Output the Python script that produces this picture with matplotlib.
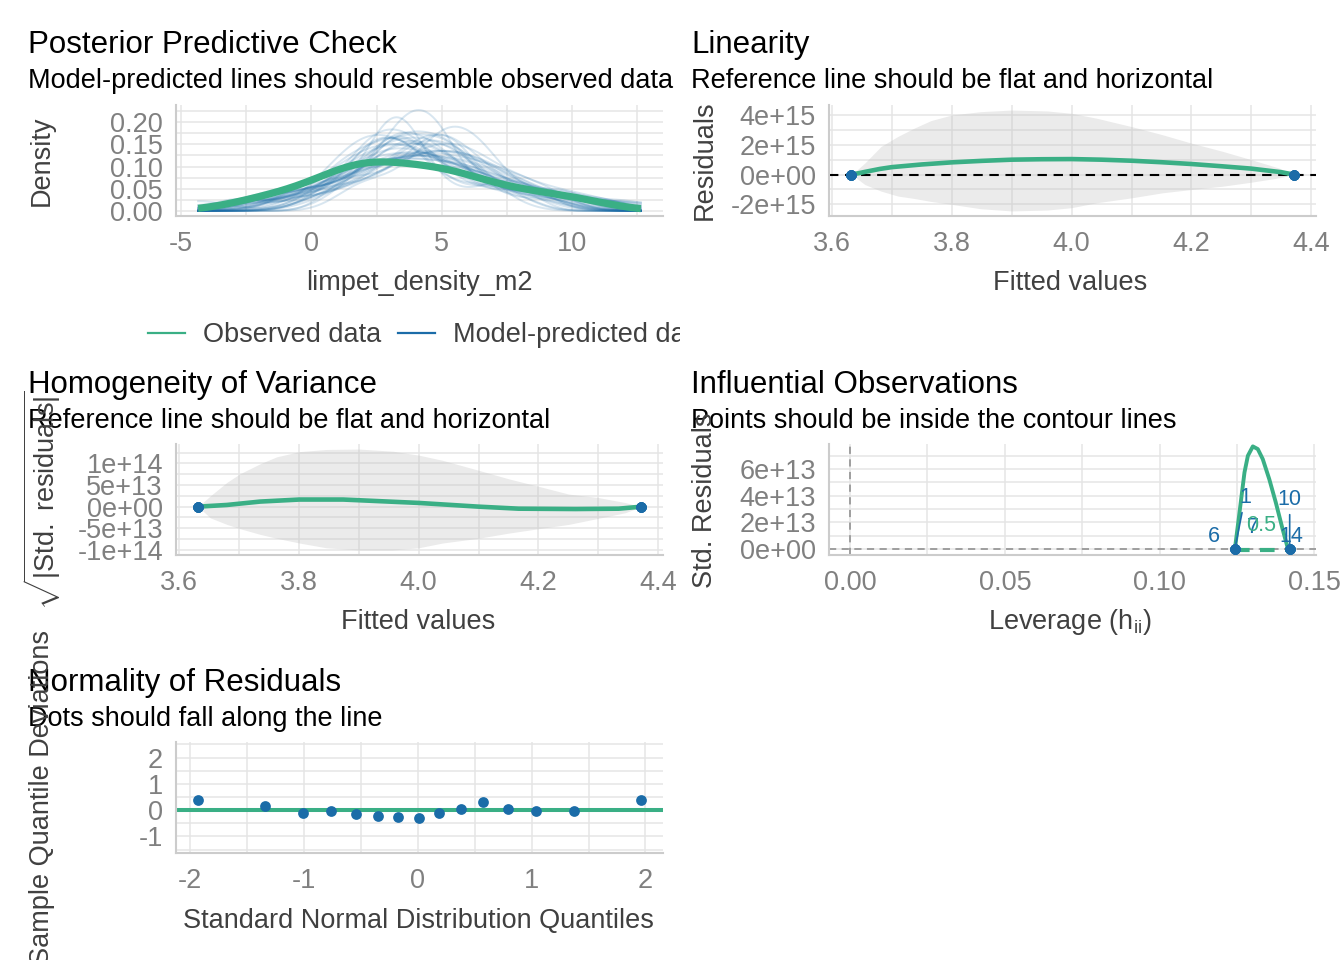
import numpy as np
import matplotlib
matplotlib.use("Agg")
import matplotlib.pyplot as plt
from matplotlib.ticker import FixedLocator, FixedFormatter

plt.rcParams['font.family'] = ['Liberation Sans', 'DejaVu Sans']
plt.rcParams['mathtext.fontset'] = 'custom'
plt.rcParams['mathtext.rm'] = 'Liberation Sans'
plt.rcParams['mathtext.it'] = 'Liberation Sans:italic'
plt.rcParams['mathtext.bf'] = 'Liberation Sans:bold'
plt.rcParams['axes.unicode_minus'] = False

W, H = 1344, 960
GREEN = '#3aaf85'
BLUE = '#1b6ca8'
GRID = '#e5e5e5'
AXLINE = '#cccccc'
TICK = '#808080'
LAB = '#404040'

# ---- posterior predictive check: observed sample and model replicates
observed = [-2.0, -0.3, 0.8, 1.5, 1.9, 2.3, 2.7, 3.4, 4.4, 4.9, 5.3, 5.9, 7.2, 8.5, 10.2]
replicates = [
    [3.1, 5.6, -0.8, 2.4, 7.9, 4.2, 1.3, 6.5, 3.8, 0.2, 9.1, 4.7, 2.9, 5.2, -2.1],
    [4.4, 2.2, 6.8, 1.7, 3.5, 8.3, 5.9, -1.4, 3.0, 4.9, 10.2, 2.6, 0.9, 6.1, 3.9],
    [-4.35, 1.2, 3.3, 4.1, 2.8, 5.4, 7.2, 0.5, 3.7, 6.6, 2.1, 4.8, 8.9, 1.9, 3.4],
    [5.1, 3.6, 0.9, 2.9, 4.0, 6.8, 5.7, 2.5, 4.6, 3.9, 8.2, 1.8, 4.4, 3.3, 5.0],
    [0.7, 6.9, 2.3, 9.6, 4.5, -1.9, 5.8, 3.1, 7.7, 1.4, 4.9, 12.65, 2.7, 6.3, 3.6],
    [2.6, 3.1, 1.2, 2.8, 4.5, 3.6, 0.7, 6.7, 7.4, 3.9, -0.8, 5.5, 2.9, 9.8, 5.0],
    [4.8, 5.3, 6.6, 4.0, 5.9, 1.0, 2.4, 6.2, 3.3, 7.3, 0.3, 5.1, 8.4, 3.8, 9.0],
    [-2.8, 0.9, 2.1, 3.6, 1.5, 4.4, 2.7, 0.2, 3.3, 5.2, 6.8, 1.8, 4.0, 7.5, 2.5],
    [3.9, 7.1, 5.5, 2.0, 9.3, 4.6, 6.4, 3.2, 8.0, 1.1, 5.0, 10.8, 4.2, 6.9, 2.8],
    [1.6, 2.3, 3.0, 2.7, 4.9, 5.3, 4.6, 2.0, 5.8, 3.4, 8.6, -0.5, 5.1, 2.9, 6.2],
    [4.0, -1.1, 6.3, 3.5, 0.6, 7.8, 2.9, 5.1, 11.2, 3.7, 1.8, 4.6, 8.7, 2.2, 5.6],
    [2.9, 3.3, 3.6, 2.5, -0.8, 4.2, 2.7, 3.9, 5.4, 1.6, 6.9, 0.4, 3.4, 7.6, 8.7],
    [5.7, 4.1, 6.6, 0.1, 2.8, 4.9, 9.9, 3.4, 7.0, -2.5, 5.2, 1.7, 6.1, 3.8, 8.2],
    [3.2, 1.0, 4.5, 6.0, 2.3, 3.8, 5.1, 0.0, 4.1, 7.2, 2.7, 5.6, -1.6, 3.5, 9.0],
    [4.7, 4.3, 5.0, 5.4, 0.6, 3.6, 6.2, 2.0, 4.9, 7.7, 1.3, 5.8, 3.2, 10.4, 8.9],
    [0.4, 2.5, 1.8, 3.9, -0.9, 6.1, 2.9, 4.6, 1.2, 7.4, 3.4, 5.0, 8.8, 2.1, 4.2],
    [6.4, 3.0, 7.9, 4.4, 5.3, 2.6, 11.5, 5.9, 1.5, 8.6, 4.0, 6.8, 0.8, 5.0, 3.7],
    [3.5, 2.8, 4.6, 3.1, 5.2, 9.0, 2.4, 4.3, 6.0, 3.3, 1.1, 4.9, 7.1, -0.3, 5.6],
    [2.0, 5.7, 3.4, 8.1, 1.4, 4.8, -3.2, 6.5, 3.0, 4.2, 9.7, 2.6, 5.3, 0.7, 6.9],
    [4.2, 4.8, 3.7, 5.5, 0.4, 6.3, 2.8, 5.0, 3.1, 6.9, 4.6, 1.9, 5.8, 8.0, 9.8],
    [1.1, 3.8, 2.4, 5.9, 0.3, 4.4, 2.9, 7.0, 3.3, -1.8, 5.1, 2.0, 8.4, 3.6, 6.2],
    [5.0, 2.7, 6.1, 3.9, 4.5, 9.2, 1.6, 5.6, 3.2, 7.3, 4.1, 0.5, 6.7, 4.8, 11.0],
    [2.2, 2.6, 3.0, 1.7, 3.5, 2.9, 4.1, 0.9, 5.3, -2.4, 6.4, 3.8, -0.7, 8.6, 7.5],
    [3.6, 5.2, 1.9, 6.8, 4.0, 2.5, 8.5, 4.7, 0.6, 5.9, 3.1, 7.4, -1.3, 4.3, 10.1],
    [4.9, 3.3, 5.8, 2.1, 4.4, 6.6, 3.7, 5.1, 1.2, 4.0, 7.9, 2.8, 5.5, 9.4, 3.0],
    [0.0, 1.9, 3.1, 2.5, 4.7, -1.5, 3.6, 5.4, 2.2, 6.3, 1.3, 4.1, 7.8, 2.9, 3.9],
    [5.4, 6.0, 4.6, 7.2, 3.9, 5.7, 2.3, 6.5, 4.9, 8.8, 1.6, 5.2, 3.4, 10.0, 6.8],
    [3.0, 4.5, 2.0, 5.3, 3.7, 1.4, 6.1, 4.0, 2.6, 7.0, 3.3, -2.2, 4.8, 0.8, 5.7],
    [2.7, 7.6, 4.3, 1.0, 5.9, 3.6, 9.0, 2.2, 6.4, -0.4, 4.9, 3.1, 11.8, 5.4, 1.7],
    [4.1, 3.4, 4.7, 2.9, 5.2, -1.0, 4.4, 6.6, 1.5, 5.7, 3.1, 8.2, 2.4, 9.6, 0.2],
    [1.8, 4.9, 3.2, -0.6, 6.7, 2.4, 5.5, 8.1, 3.9, 0.8, 4.4, 7.0, 2.9, 5.8, 10.6],
    [6.1, 2.9, 4.7, 3.4, 8.7, 0.2, 5.3, 2.0, 6.9, 4.1, -2.6, 3.6, 5.9, 1.3, 7.6],
    [3.3, 3.8, 2.6, 4.4, 1.1, 5.0, 3.0, 6.4, -0.9, 4.7, 2.2, 7.7, 3.5, 9.3, 5.6],
    [5.8, 4.2, 7.3, 2.7, 6.0, 3.5, 9.5, 4.8, 1.6, 6.6, 0.4, 5.2, 11.9, 3.9, 7.9],
    [2.4, 0.6, 3.7, 1.5, 4.3, -1.7, 2.9, 5.6, 3.2, 6.9, 1.0, 4.6, 8.3, 2.1, 3.9],
]

# ---- fitted values / residuals (two groups of observations)
fitted = [3.632, 3.632, 3.632, 3.632, 3.632, 3.632, 3.632, 3.632,
          4.371, 4.371, 4.371, 4.371, 4.371, 4.371, 4.371]
resid = [0.0] * 15
leverage = [0.1243, 0.1243, 0.1243, 0.1243, 0.1243, 0.1243, 0.1243, 0.1243,
            0.1420, 0.1420, 0.1420, 0.1420, 0.1420, 0.1420, 0.1420]

# linearity smoother and its band (x 1e15)
lin_band_x = [3.633, 3.655, 3.682, 3.710, 3.737, 3.765, 3.800, 3.848, 3.900, 3.959,
              4.000, 4.042, 4.100, 4.152, 4.200, 4.252, 4.300, 4.346, 4.371]
lin_hi = [0, 0.78, 1.89, 2.56, 3.11, 3.62, 4.0, 4.22, 4.33, 4.27,
          4.11, 3.78, 3.22, 2.67, 2.11, 1.56, 1.0, 0.44, 0]
lin_lo = [0, -0.67, -1.11, -1.44, -1.60, -1.80, -2.0, -2.29, -2.44, -2.38,
          -2.22, -1.89, -1.56, -1.22, -1.0, -0.78, -0.51, -0.22, 0]
lin_line_x = [3.633, 3.655, 3.68, 3.70, 3.75, 3.80, 3.85, 3.90, 3.95, 4.00, 4.05,
              4.10, 4.15, 4.20, 4.25, 4.30, 4.35, 4.371]
lin_line = [0, 0.18, 0.38, 0.50, 0.68, 0.82, 0.92, 1.0, 1.03, 1.04, 1.0,
            0.93, 0.83, 0.71, 0.56, 0.4, 0.16, 0]

# homogeneity smoother and band (x 1e13)
hom_band_x = [3.632, 3.6525, 3.680, 3.702, 3.7355, 3.763, 3.801, 3.846, 3.900, 3.957,
              4.000, 4.040, 4.100, 4.151, 4.200, 4.2505, 4.300, 4.345, 4.372]
hom_hi = [0, 2.5, 5.6, 7.6, 9.9, 11.5, 12.7, 13.2, 13.3, 12.8,
          11.9, 10.7, 8.4, 6.4, 4.7, 2.9, 2.1, 0.94, 0]
hom_lo = [0, -2.6, -4.1, -5.1, -6.4, -7.3, -8.4, -9.5, -10.0, -10.0,
          -9.5, -8.4, -7.3, -6.1, -5.1, -4.1, -2.7, -1.4, 0]
hom_line_x = [3.632, 3.680, 3.7355, 3.801, 3.874, 3.900, 4.000, 4.100, 4.167, 4.262, 4.334, 4.372]
hom_line = [0, 0.39, 1.17, 1.64, 1.64, 1.48, 0.86, 0, -0.47, -0.55, -0.47, 0]

# Cook's distance contour (x 1e13)
cook_x = [0.1243, 0.1258, 0.1274, 0.1285, 0.1301, 0.1317, 0.1333, 0.1354, 0.1375, 0.1397, 0.1413]
cook_y = [0, 2.75, 5.74, 6.99, 7.69, 7.49, 6.74, 5.24, 3.50, 1.50, 0.13]
cook_low_x = [0.1243, 0.1420]
cook_low_y = [-0.1, -0.1]
infl_ids = ['6', '1', '7', '10', '14']
infl_idx = [5, 0, 6, 9, 13]

# QQ (detrended)
qq_x = [-1.93, -1.34, -1.01, -0.76, -0.54, -0.35, -0.17, 0.01, 0.19, 0.38, 0.57, 0.79, 1.04, 1.37, 1.96]
qq_y = [0.40, 0.15, -0.125, -0.04, -0.16, -0.21, -0.25, -0.29, -0.125, 0.025, 0.30, 0.06, -0.04, -0.04, 0.40]


def nrd0(x):
    x = np.asarray(x, float)
    q75, q25 = np.percentile(x, [75, 25])
    lo = min(np.std(x, ddof=1), (q75 - q25) / 1.34)
    return 0.9 * lo * len(x) ** -0.2


def kde(x, grid):
    x = np.asarray(x, float)
    bw = nrd0(x)
    z = (grid[:, None] - x[None, :]) / bw
    return np.exp(-0.5 * z ** 2).sum(axis=1) / (len(x) * bw * np.sqrt(2 * np.pi))


def expand(lo, hi, m=0.05):
    d = (hi - lo) * m
    return lo - d, hi + d


fig = plt.figure(figsize=(W / 100, H / 100), dpi=100)


def panel(l, t, r, b):
    ax = fig.add_axes([l / W, 1 - b / H, (r - l) / W, (b - t) / H])
    for s in ['top', 'right']:
        ax.spines[s].set_visible(False)
    for s in ['left', 'bottom']:
        ax.spines[s].set_color(AXLINE)
        ax.spines[s].set_linewidth(1.5)
    ax.tick_params(which='both', length=0, labelsize=19.5, labelcolor=TICK)
    ax.tick_params(axis='y', pad=9.4)
    ax.tick_params(axis='x', pad=10.5)
    ax.grid(True, which='both', color=GRID, lw=1.1)
    ax.set_axisbelow(True)
    return ax


def ticks(ax, xt, xl, xm, yt, yl, ym):
    ax.xaxis.set_major_locator(FixedLocator(xt))
    ax.xaxis.set_major_formatter(FixedFormatter(xl))
    ax.xaxis.set_minor_locator(FixedLocator(xm))
    ax.yaxis.set_major_locator(FixedLocator(yt))
    ax.yaxis.set_major_formatter(FixedFormatter(yl))
    ax.yaxis.set_minor_locator(FixedLocator(ym))


def ftext(x, y, s, **kw):
    fig.text(x / W, 1 - y / H, s, **kw)


def titles(x, y, title, sub):
    ftext(x, y, title, fontsize=22.5, color='black', va='baseline', ha='left')
    ftext(x, y + 34.5, sub, fontsize=19.5, color='black', va='baseline', ha='left')


def xlab(x, y, s):
    ftext(x, y, s, fontsize=19.5, color=LAB, ha='center', va='baseline')


def ylab(x, y, s):
    ftext(x, y, s, fontsize=19.5, color=LAB, ha='center', va='baseline',
          rotation=90, rotation_mode='anchor')


# ---------------- Posterior predictive check
ax1 = panel(176, 105, 663, 216)
allx = np.concatenate([observed] + [np.asarray(r) for r in replicates])
grid = np.linspace(allx.min(), allx.max(), 512)
dens = [kde(r, grid) for r in replicates]
dobs = kde(observed, grid)
for d in dens:
    ax1.plot(grid, d, color=BLUE, lw=1.4, alpha=0.17)
ax1.plot(grid, dobs, color=GREEN, lw=5.2, solid_capstyle='butt')
ax1.set_xlim(*expand(allx.min(), allx.max()))
dall = np.concatenate(dens + [dobs])
ax1.set_ylim(*expand(dall.min(), dall.max()))
ticks(ax1, [-5, 0, 5, 10], ['-5', '0', '5', '10'], [-2.5, 2.5, 7.5, 12.5],
      [0, 0.05, 0.10, 0.15, 0.20], ['0.00', '0.05', '0.10', '0.15', '0.20'],
      [0.025, 0.075, 0.125, 0.175, 0.225])
titles(28, 53, 'Posterior Predictive Check', 'Model-predicted lines should resemble observed data')
xlab(419, 290, 'limpet_density_m2')
ylab(49, 160.5, 'Density')

# legend row (clipped at the panel edge)
lax = fig.add_axes([0, 1 - 352 / H, 680 / W, 38 / H])
lax.set_xlim(0, 680)
lax.set_ylim(352, 314)
lax.axis('off')
lax.plot([148, 185], [333, 333], color=GREEN, lw=1.6, clip_on=True)
lax.plot([398, 435], [333, 333], color=BLUE, lw=1.6, clip_on=True)
lax.text(203, 342.5, 'Observed data', fontsize=19.5, color=LAB, va='baseline', clip_on=True)
lax.text(453, 342.5, 'Model-predicted data', fontsize=19.5, color=LAB, va='baseline', clip_on=True)

# ---------------- Linearity
ax2 = panel(829, 105, 1316, 216)
e15 = 1e15
ax2.fill_between(lin_band_x, np.array(lin_lo) * e15, np.array(lin_hi) * e15,
                 color='#bebebe', alpha=0.3, lw=0)
ax2.axhline(0, color='black', lw=1.5, dashes=(4.5, 3.2))
ax2.plot(lin_line_x, np.array(lin_line) * e15, color=GREEN, lw=3.3)
ax2.scatter(fitted, np.array(resid) * e15, s=55, color=BLUE, zorder=4, lw=0)
ax2.set_xlim(*expand(min(fitted), max(fitted)))
ax2.set_ylim(*expand(min(lin_lo) * e15, max(lin_hi) * e15))
ticks(ax2, [3.6, 3.8, 4.0, 4.2, 4.4], ['3.6', '3.8', '4.0', '4.2', '4.4'], [3.7, 3.9, 4.1, 4.3],
      [-2e15, 0, 2e15, 4e15], ['-2e+15', '0e+00', '2e+15', '4e+15'], [-3e15, -1e15, 1e15, 3e15])
titles(691, 53, 'Linearity', 'Reference line should be flat and horizontal')
xlab(1070, 290, 'Fitted values')
ylab(712, 160.5, 'Residuals')

# ---------------- Homogeneity of variance
ax3 = panel(176, 444, 663, 555)
e13 = 1e13
ax3.fill_between(hom_band_x, np.array(hom_lo) * e13, np.array(hom_hi) * e13,
                 color='#bebebe', alpha=0.3, lw=0)
ax3.plot(hom_line_x, np.array(hom_line) * e13, color=GREEN, lw=3.3)
ax3.scatter(fitted, np.array(resid) * e13, s=55, color=BLUE, zorder=4, lw=0)
ax3.set_xlim(*expand(min(fitted), max(fitted)))
ax3.set_ylim(*expand(min(hom_lo) * e13, max(hom_hi) * e13))
ticks(ax3, [3.6, 3.8, 4.0, 4.2, 4.4], ['3.6', '3.8', '4.0', '4.2', '4.4'], [3.7, 3.9, 4.1, 4.3],
      [-1e14, -5e13, 0, 5e13, 1e14], ['-1e+14', '-5e+13', '0e+00', '5e+13', '1e+14'],
      [-1.25e14, -7.5e13, -2.5e13, 2.5e13, 7.5e13, 1.25e14])
titles(28, 393, 'Homogeneity of Variance', 'Reference line should be flat and horizontal')
xlab(418, 629, 'Fitted values')
ylab(55, 500, r'$\sqrt{|\mathrm{Std.\ residuals}|}$')

# ---------------- Influential observations
ax4 = panel(829, 444, 1316, 555)
ax4.axhline(0, color='#999999', lw=1.3, dashes=(4, 3))
ax4.axvline(0, color='#999999', lw=1.3, dashes=(4, 3))
ax4.plot(cook_x, np.array(cook_y) * e13, color=GREEN, lw=2.8)
ax4.plot(cook_low_x, np.array(cook_low_y) * e13, color=GREEN, lw=3.0, dashes=(3.5, 2.5))
ax4.scatter(leverage, np.array(resid) * e13, s=55, color=BLUE, zorder=4, lw=0)
offsets = {'6': (-21, 12), '1': (10, 51), '7': (18, 21), '10': (0, 49), '14': (2, 12)}
for lab, i in zip(infl_ids, infl_idx):
    dx, dy = offsets[lab]
    arrow = None
    if lab in ('1', '10'):
        arrow = dict(arrowstyle='-', color=BLUE, lw=1.2, shrinkA=1, shrinkB=3)
    ax4.annotate(lab, xy=(leverage[i], resid[i] * e13), xytext=(dx, dy),
                 textcoords='offset pixels', ha='center', va='center',
                 fontsize=15.5, color=BLUE, arrowprops=arrow, zorder=5)
ax4.text(0.1327, 1.75e13, '0.5', fontsize=15.5, color=GREEN, ha='center', va='center', zorder=5)
ax4.set_xlim(-0.0068, 0.1505)
ax4.set_ylim(-0.45e13, 7.87e13)
ticks(ax4, [0, 0.05, 0.10, 0.15], ['0.00', '0.05', '0.10', '0.15'], [0.025, 0.075, 0.125],
      [0, 2e13, 4e13, 6e13], ['0e+00', '2e+13', '4e+13', '6e+13'], [1e13, 3e13, 5e13, 7e13])
titles(691, 393, 'Influential Observations', 'Points should be inside the contour lines')
xlab(1070, 629, r'Leverage (h$_{\mathregular{ii}}$)')
ylab(712, 500, 'Std. Residuals')

# ---------------- Normality of residuals
ax5 = panel(176, 742, 663, 853)
ax5.axhline(0, color=GREEN, lw=2.9)
ax5.scatter(qq_x, qq_y, s=60, color=BLUE, zorder=4, lw=0)
ax5.set_xlim(*expand(min(qq_x), max(qq_x)))
ax5.set_ylim(-1.63, 2.59)
ticks(ax5, [-2, -1, 0, 1, 2], ['-2', '-1', '0', '1', '2'], [-1.5, -0.5, 0.5, 1.5],
      [-1, 0, 1, 2], ['-1', '0', '1', '2'], [-1.5, -0.5, 0.5, 1.5, 2.5])
titles(28, 691, 'Normality of Residuals', 'Dots should fall along the line')
xlab(418, 928, 'Standard Normal Distribution Quantiles')
ylab(49, 797.5, 'Sample Quantile Deviations')

fig.savefig('out.png', dpi=100)
